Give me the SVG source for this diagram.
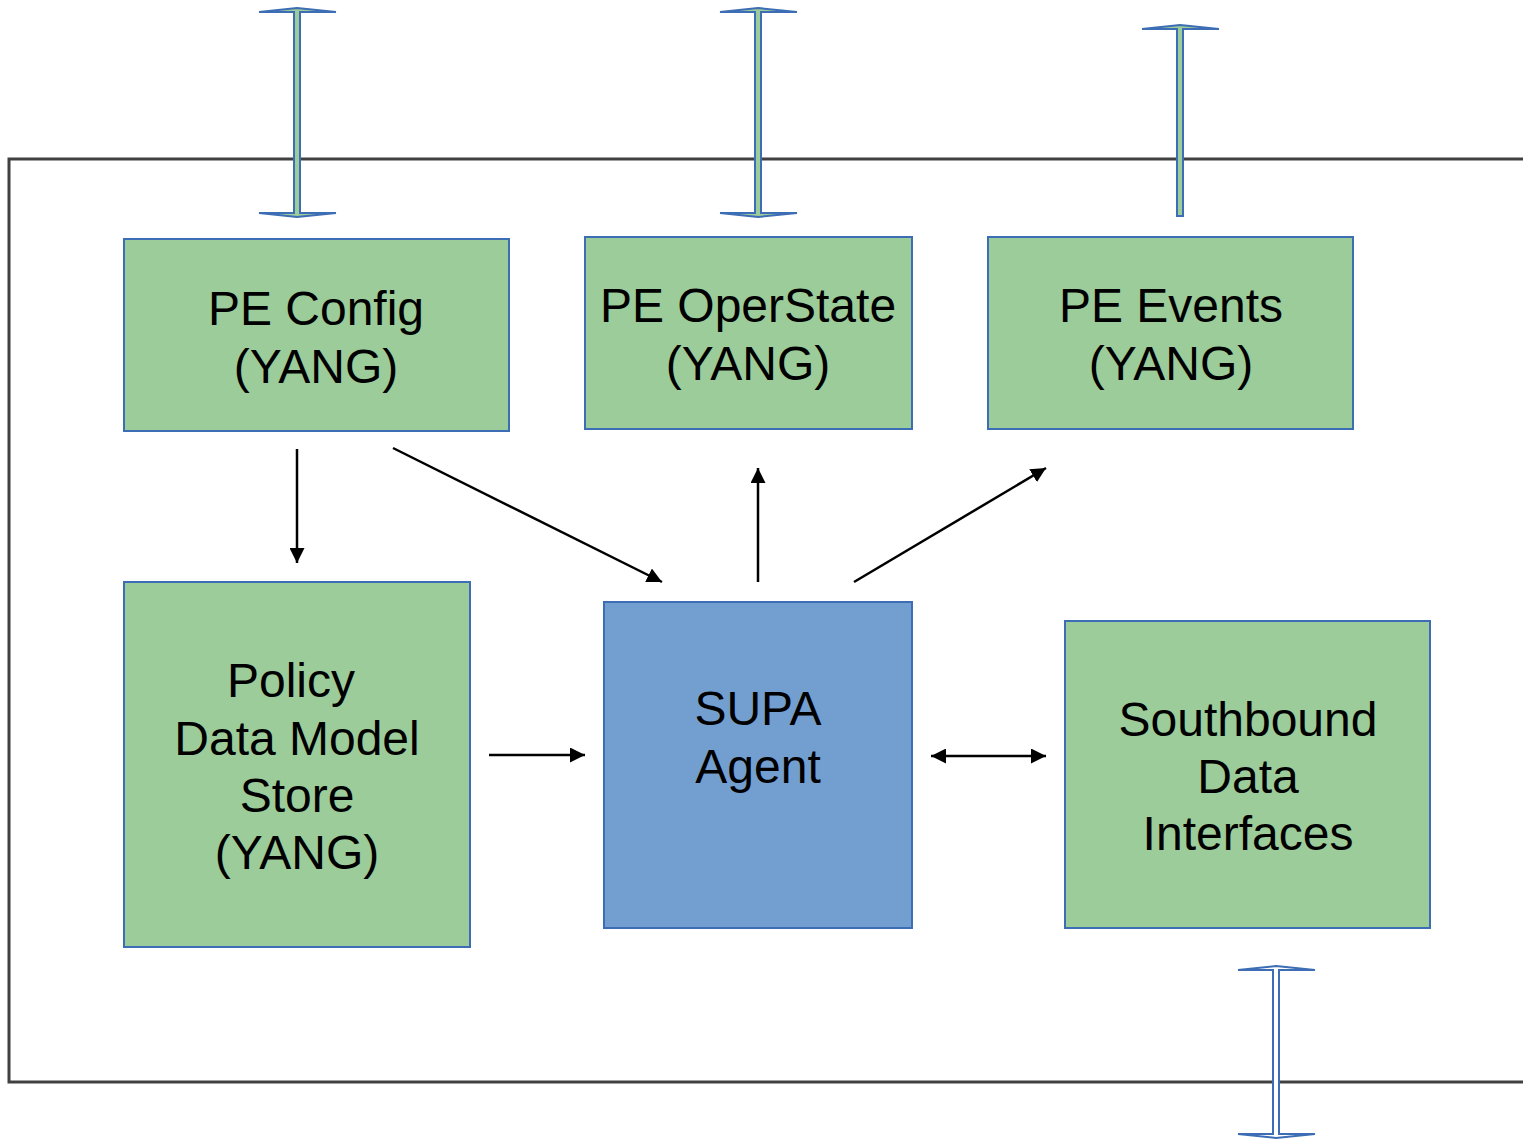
<svg xmlns="http://www.w3.org/2000/svg" width="1523" height="1141" viewBox="0 0 1523 1141">
<defs>
<style>
.box{fill:#9ccc9a;stroke:#3d6db5;stroke-width:2}
.agent{fill:#739fd0;stroke:#3d6db5;stroke-width:2}
.t{font-family:"Liberation Sans",Arial,sans-serif;font-size:48px;fill:#000;text-anchor:middle}
.c{stroke:#000;stroke-width:2.5;fill:none}
.blk{stroke:#3d6db5;stroke-width:2;stroke-linejoin:miter}
</style>
<marker id="ah" viewBox="0 0 10 10" refX="10" refY="5" markerWidth="6" markerHeight="6" orient="auto-start-reverse" markerUnits="strokeWidth">
<path d="M0,0 L10,5 L0,10 z" fill="#000"/>
</marker>
</defs>
<rect x="9" y="159" width="1530" height="923" fill="none" stroke="#404040" stroke-width="3"/>
<g id="conn">
<path class="blk" fill="#9ccc9a" d="M297,8 L336,12 L300,12 L300,213 L336,213 L297,217 L259,213 L294,213 L294,12 L259,12 Z"/>
<path class="blk" fill="#9ccc9a" d="M758,8 L797,12 L761,12 L761,213 L797,213 L758,217 L720,213 L755,213 L755,12 L720,12 Z"/>
<path class="blk" fill="#9ccc9a" d="M1180,25 L1219,29 L1183,29 L1183,216 L1177,216 L1177,29 L1142,29 Z"/>
<path class="blk" fill="#ffffff" d="M1276,966 L1315,970 L1279,970 L1279,1134 L1315,1134 L1276,1138 L1238,1134 L1273,1134 L1273,970 L1238,970 Z"/>
<line class="c" x1="297" y1="449" x2="297" y2="563" marker-end="url(#ah)"/>
<line class="c" x1="393" y1="448" x2="662" y2="582" marker-end="url(#ah)"/>
<line class="c" x1="758" y1="582" x2="758" y2="468" marker-end="url(#ah)"/>
<line class="c" x1="854" y1="582" x2="1046" y2="468" marker-end="url(#ah)"/>
<line class="c" x1="489" y1="755" x2="585" y2="755" marker-end="url(#ah)"/>
<line class="c" x1="931" y1="756" x2="1046" y2="756" marker-start="url(#ah)" marker-end="url(#ah)"/>
</g>
<g id="pe-config">
<rect class="box" x="124" y="239" width="385" height="192"/>
<text class="t" x="316" y="325">PE Config</text>
<text class="t" x="316" y="383">(YANG)</text>
</g>
<g id="pe-operstate">
<rect class="box" x="585" y="237" width="327" height="192"/>
<text class="t" x="748" y="322">PE OperState</text>
<text class="t" x="748" y="380">(YANG)</text>
</g>
<g id="pe-events">
<rect class="box" x="988" y="237" width="365" height="192"/>
<text class="t" x="1171" y="322">PE Events</text>
<text class="t" x="1171" y="380">(YANG)</text>
</g>
<g id="policy-store">
<rect class="box" x="124" y="582" width="346" height="365"/>
<text class="t" x="291" y="697">Policy</text>
<text class="t" x="297" y="755">Data Model</text>
<text class="t" x="297" y="812">Store</text>
<text class="t" x="297" y="869">(YANG)</text>
</g>
<g id="supa-agent">
<rect class="agent" x="604" y="602" width="308" height="326"/>
<text class="t" x="758" y="725">SUPA</text>
<text class="t" x="758" y="783">Agent</text>
</g>
<g id="southbound">
<rect class="box" x="1065" y="621" width="365" height="307"/>
<text class="t" x="1248" y="736">Southbound</text>
<text class="t" x="1248" y="793">Data</text>
<text class="t" x="1248" y="850">Interfaces</text>
</g>
</svg>
